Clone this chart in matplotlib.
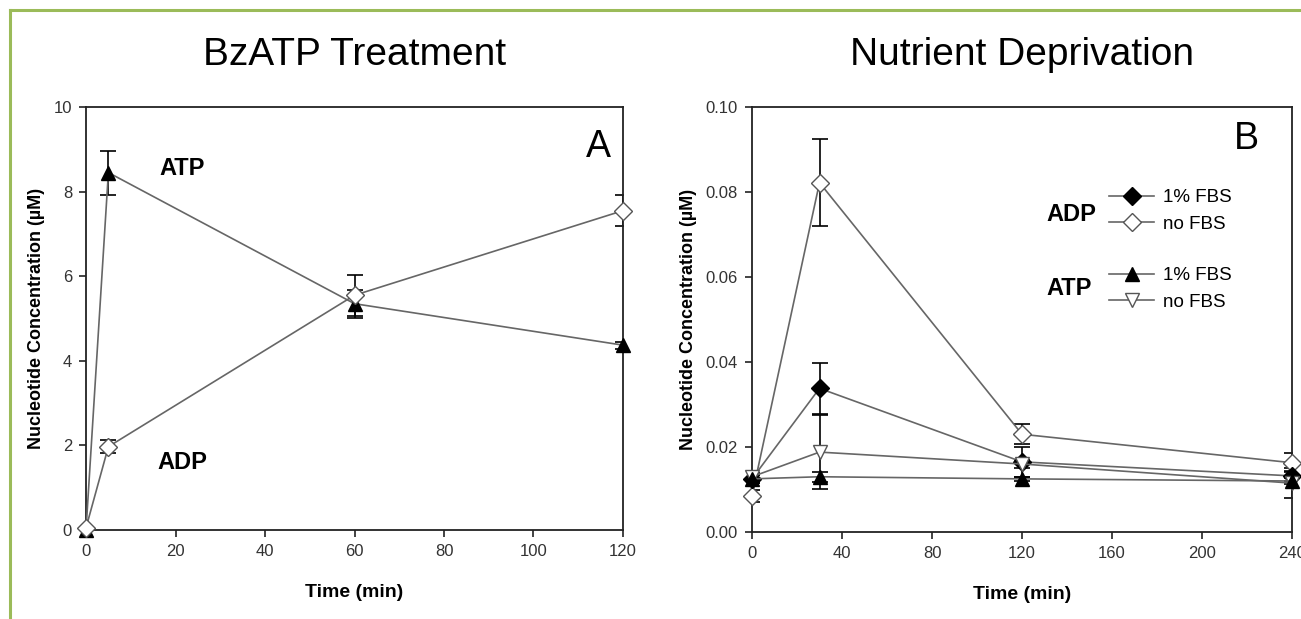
import numpy as np
import matplotlib
matplotlib.use("Agg")
import matplotlib.pyplot as plt
from matplotlib.lines import Line2D

plt.rcParams['font.family'] = ['Liberation Sans', 'DejaVu Sans']

# ---- Panel A: BzATP treatment ----
time_a = [0, 5, 60, 120]
atp_a = [0.0, 8.45, 5.35, 4.37]
atp_a_err = [0.0, 0.52, 0.33, 0.08]
adp_a = [0.05, 1.97, 5.55, 7.55]
adp_a_err = [0.0, 0.15, 0.48, 0.36]

# ---- Panel B: nutrient deprivation ----
time_b = [0, 30, 120, 240]
adp_fbs = [0.0125, 0.0338, 0.0165, 0.0132]
adp_fbs_err = [0.0010, 0.0060, 0.0035, 0.0012]
adp_nofbs = [0.0085, 0.0822, 0.0230, 0.0163]
adp_nofbs_err = [0.0015, 0.0103, 0.0023, 0.0022]
atp_fbs = [0.0125, 0.0130, 0.0125, 0.0120]
atp_fbs_err = [0.0010, 0.0012, 0.0005, 0.0008]
atp_nofbs = [0.0130, 0.0188, 0.0160, 0.0115]
atp_nofbs_err = [0.0008, 0.0087, 0.0010, 0.0035]

line_col = '#666666'
tick_col = '#333333'

fig = plt.figure(figsize=(13.01, 6.19), dpi=100)

# green frame
fig.add_artist(Line2D([10 / 1301, 1.0], [1 - 10 / 619] * 2, color='#9bbb59', lw=2.2,
                      transform=fig.transFigure))
fig.add_artist(Line2D([10 / 1301] * 2, [0, 1 - 10 / 619], color='#9bbb59', lw=2.2,
                      transform=fig.transFigure))

axA = fig.add_axes([86 / 1301, 89 / 619, 537 / 1301, 423 / 619])
axB = fig.add_axes([752 / 1301, 87 / 619, 540 / 1301, 425 / 619])


def series(ax, x, y, err, marker, face, ms=10):
    ax.errorbar(x, y, yerr=err, fmt='none', ecolor='black', elinewidth=1.2,
                capsize=6, capthick=1.2, zorder=2)
    ax.plot(x, y, color=line_col, lw=1.2, marker=marker, ms=ms,
            markerfacecolor=face, markeredgecolor='black' if face == 'black' else '#555555',
            markeredgewidth=1.0, zorder=3, clip_on=False)


series(axA, time_a, atp_a, atp_a_err, '^', 'black')
series(axA, time_a, adp_a, adp_a_err, 'D', 'white', ms=9)

series(axB, time_b, adp_nofbs, adp_nofbs_err, 'D', 'white', ms=9)
series(axB, time_b, adp_fbs, adp_fbs_err, 'D', 'black', ms=9)
series(axB, time_b, atp_nofbs, atp_nofbs_err, 'v', 'white')
series(axB, time_b, atp_fbs, atp_fbs_err, '^', 'black')

for ax in (axA, axB):
    for s in ax.spines.values():
        s.set_linewidth(1.3)
        s.set_color('#222222')
    ax.tick_params(direction='out', length=5, width=1.2, labelsize=12,
                   colors='#222222', labelcolor=tick_col, pad=5)
    ax.set_xlabel('Time (min)', fontsize=14, fontweight='bold', labelpad=18)
    ax.set_ylabel('Nucleotide Concentration (\u00b5M)', fontsize=13,
                  fontweight='bold', labelpad=6)

axA.set_xlim(0, 120)
axA.set_ylim(0, 10)
axA.set_xticks(np.arange(0, 121, 20))
axA.set_yticks(np.arange(0, 11, 2))
axA.set_title('BzATP Treatment', fontsize=28, pad=30)
axA.text(0.955, 0.905, 'A', transform=axA.transAxes, fontsize=27, ha='center', va='center')
axA.text(21.5, 8.55, 'ATP', fontsize=17, fontweight='bold', ha='center', va='center')
axA.text(21.5, 1.6, 'ADP', fontsize=17, fontweight='bold', ha='center', va='center')

axB.set_xlim(0, 240)
axB.set_ylim(0, 0.10)
axB.set_xticks(np.arange(0, 241, 40))
axB.set_yticks(np.arange(0, 0.101, 0.02))
axB.set_yticklabels(['%.2f' % v for v in np.arange(0, 0.101, 0.02)])
axB.set_title('Nutrient Deprivation', fontsize=28, pad=30)
axB.text(0.915, 0.925, 'B', transform=axB.transAxes, fontsize=27, ha='center', va='center')


def handle(marker, face, ms=9):
    return Line2D([], [], color=line_col, lw=1.2, marker=marker, ms=ms,
                  markerfacecolor=face, markeredgecolor='black' if face == 'black' else '#555555')


legADP = axB.legend([handle('D', 'black'), handle('D', 'white')], ['1% FBS', 'no FBS'],
                    loc='center left', bbox_to_anchor=(0.63, 0.755), frameon=False,
                    fontsize=13.5, handlelength=2.4, labelspacing=0.5, handletextpad=0.5)
axB.add_artist(legADP)
axB.legend([handle('^', 'black', 10), handle('v', 'white', 10)], ['1% FBS', 'no FBS'],
           loc='center left', bbox_to_anchor=(0.63, 0.572), frameon=False,
           fontsize=13.5, handlelength=2.4, labelspacing=0.5, handletextpad=0.5)
axB.text(0.545, 0.748, 'ADP', transform=axB.transAxes, fontsize=17, fontweight='bold',
         ha='left', va='center')
axB.text(0.545, 0.572, 'ATP', transform=axB.transAxes, fontsize=17, fontweight='bold',
         ha='left', va='center')

fig.savefig('out.png', dpi=100)
